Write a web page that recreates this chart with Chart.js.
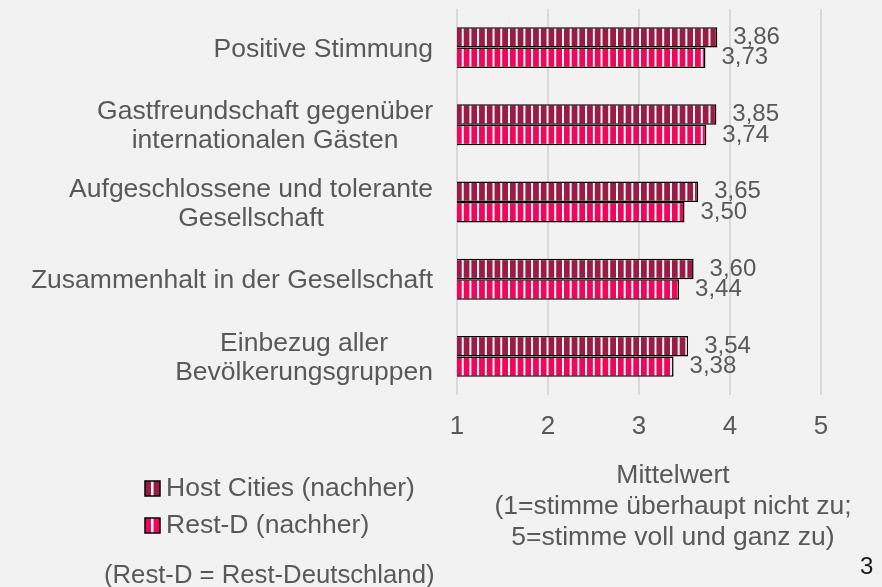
<!DOCTYPE html>
<html>
<head>
<meta charset="utf-8">
<script src="https://cdn.jsdelivr.net/npm/chart.js@4.4.0/dist/chart.umd.min.js"></script>
<style>
  html, body { margin: 0; padding: 0; background: #f2f2f2; }
  canvas { display: block; }
</style>
</head>
<body>
<canvas id="chart" width="882" height="587"></canvas>
<script>
// data
const categories = [
  "Positive Stimmung",
  ["Gastfreundschaft gegenüber", "internationalen Gästen"],
  ["Aufgeschlossene und tolerante", "Gesellschaft"],
  "Zusammenhalt in der Gesellschaft",
  ["Einbezug aller", "Bevölkerungsgruppen"],
];
const seriesNames = ["Host Cities (nachher)", "Rest-D (nachher)"];
const hostCities = [3.86, 3.85, 3.65, 3.60, 3.54];
const restD = [3.73, 3.74, 3.50, 3.44, 3.38];
const xMin = 1;
const xMax = 5;
const axisTitle = ["Mittelwert", "(1=stimme überhaupt nicht zu;", "5=stimme voll und ganz zu)"];
const footnote = "(Rest-D = Rest-Deutschland)";
const pageNumber = "3";

const FONT = '"Liberation Sans", Arial, sans-serif';
const GREY = "#595959";
const colors = ["#9b1b44", "#ef075c"];

let ctx = document.getElementById("chart").getContext("2d");

function stripes(color) {
  let c = document.createElement("canvas");
  c.width = 8;
  c.height = 8;
  let g = c.getContext("2d");
  g.fillStyle = color;
  g.fillRect(0, 0, 8, 8);
  g.fillStyle = "#fff";
  g.fillRect(0, 0, 2, 8);
  let p = ctx.createPattern(c, "repeat");
  p.setTransform(new DOMMatrix([0.964, 0, 0, 1, 461.7, 0]));
  return p;
}

const valueLabels = {
  id: "valueLabels",
  afterDatasetsDraw(chart) {
    let c = chart.ctx;
    c.save();
    c.font = "24px " + FONT;
    c.fillStyle = GREY;
    c.textAlign = "left";
    c.textBaseline = "middle";
    chart.data.datasets.forEach((ds, i) => {
      chart.getDatasetMeta(i).data.forEach((bar, j) => {
        c.fillText(ds.data[j].toFixed(2).replace(".", ","), bar.x + 16, bar.y);
      });
    });
    c.restore();
  },
};

// category labels: block right-aligned, lines centred inside the block
const categoryLabels = {
  id: "categoryLabels",
  afterDraw(chart) {
    let c = chart.ctx;
    let yScale = chart.scales.y;
    c.save();
    c.font = "26.5px " + FONT;
    c.fillStyle = GREY;
    c.textAlign = "center";
    c.textBaseline = "alphabetic";
    chart.data.labels.forEach((label, i) => {
      let lines = Array.isArray(label) ? label : [label];
      let widest = Math.max(...lines.map((l) => c.measureText(l).width));
      let cx = yScale.right - 24 - widest / 2;
      let cy = yScale.getPixelForTick(i);
      lines.forEach((line, k) => {
        c.fillText(line, cx, cy + 9 - (lines.length - 1) * 14.5 + k * 29);
      });
    });
    c.restore();
  },
};

// legend, axis title, footnote and page number sit outside the plot area
const extras = {
  id: "extras",
  afterDraw(chart) {
    let c = chart.ctx;
    c.save();
    c.font = "26.5px " + FONT;
    c.textBaseline = "alphabetic";

    const rows = [496, 533];
    chart.data.datasets.forEach((ds, i) => {
      let top = rows[i] - 15;
      c.fillStyle = colors[i];
      c.fillRect(145, top, 15, 15);
      c.fillStyle = "#fff";
      c.fillRect(151, top, 2.5, 15);
      c.strokeStyle = "#000";
      c.lineWidth = 1.5;
      c.strokeRect(145, top, 15, 15);
      c.fillStyle = GREY;
      c.textAlign = "left";
      c.fillText(ds.label, 166, rows[i]);
    });

    c.textAlign = "center";
    const titleY = [483, 514, 545];
    axisTitle.forEach((line, i) => c.fillText(line, 673, titleY[i]));

    c.textAlign = "left";
    c.font = "25.7px " + FONT;
    c.fillText(footnote, 104, 583);

    c.font = "24px " + FONT;
    c.fillStyle = "#1a1a1a";
    c.fillText(pageNumber, 860, 574);
    c.restore();
  },
};

let barChart = new Chart(ctx, {
  type: "bar",
  data: {
    labels: categories,
    datasets: [
      {
        label: seriesNames[0],
        data: hostCities,
        backgroundColor: stripes(colors[0]),
        borderColor: "#000",
        borderWidth: 1.5,
        borderSkipped: false,
      },
      {
        label: seriesNames[1],
        data: restD,
        backgroundColor: stripes(colors[1]),
        borderColor: "#000",
        borderWidth: 1.5,
        borderSkipped: false,
      },
    ],
  },
  options: {
    responsive: false,
    animation: false,
    indexAxis: "y",
    categoryPercentage: 0.53,
    barPercentage: 1,
    layout: {
      padding: { top: 9, right: 61, left: 0, bottom: 0 },
    },
    scales: {
      x: {
        min: xMin,
        max: xMax,
        base: xMin,
        afterFit: (s) => {
          s.height = 192;
          s.paddingLeft = 0;
          s.paddingRight = 0;
        },
        border: { display: false },
        grid: {
          color: "#d9d9d9",
          lineWidth: 2,
          drawTicks: false,
        },
        ticks: {
          stepSize: 1,
          padding: 16,
          color: GREY,
          font: { family: FONT, size: 26 },
        },
      },
      y: {
        afterFit: (s) => {
          s.width = 457;
          s.paddingTop = 0;
          s.paddingBottom = 0;
        },
        border: { display: false },
        grid: { display: false, drawTicks: false },
        ticks: { display: false },
      },
    },
    plugins: {
      legend: { display: false },
      tooltip: { enabled: false },
    },
  },
  plugins: [valueLabels, categoryLabels, extras],
});
</script>
</body>
</html>
